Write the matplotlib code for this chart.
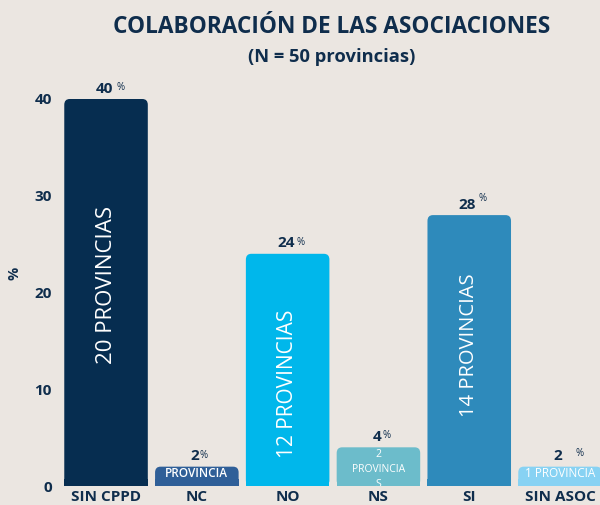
import matplotlib
matplotlib.use("Agg")
import matplotlib.pyplot as plt
from matplotlib.patches import FancyBboxPatch, Rectangle

categories = ["SIN CPPD", "NC", "NO", "NS", "SI", "SIN ASOC"]
values = [40, 2, 24, 4, 28, 2]
inner_labels = ["20 PROVINCIAS", "PROVINCIA", "12 PROVINCIAS", "2\nPROVINCIA\nS", "14 PROVINCIAS", "1 PROVINCIA"]
colors = ["#062d50", "#2f5f98", "#00b7eb", "#6cbccb", "#2e8abb", "#87d2f3"]
yticks = [0, 10, 20, 30, 40]

BG = "#ebe6e1"
NAVY = "#0f2d4c"
FONT = "Open Sans"

fig = plt.figure(figsize=(6.0, 5.05), dpi=100, facecolor=BG)
ax = fig.add_axes([0.1, 0.0376, 0.9, 0.843], facecolor=BG)
ax.set_xlim(-0.507, 5.44)
ax.set_ylim(0, 44)

width = 0.92
bars = ax.bar(range(len(values)), values, width=width, color=colors)
for b in bars:
    x, y, w, h = b.get_x(), b.get_y(), b.get_width(), b.get_height()
    b.set_visible(False)
    rpx = 0.06
    ryy = 0.6
    ax.add_patch(FancyBboxPatch((x, y), w, h,
                                boxstyle=f"round,pad=0,rounding_size={rpx}",
                                mutation_aspect=ryy / rpx,
                                fc=b.get_facecolor(), ec="none"))
    ax.add_patch(Rectangle((x, y), w, min(h, 0.7), fc=b.get_facecolor(), ec="none"))

# value labels with small percent signs
pct_dx = [0.12, 0.07, 0.10, 0.09, 0.11, 0.22]
pct_dy = [0.6, 0.6, 0.6, 0.7, 1.1, 0.8]
for i, v in enumerate(values):
    ax.text(i - 0.02, v + 0.35, str(v), ha="center", va="bottom", fontsize=11,
            fontweight="bold", color=NAVY, family=FONT)
    ax.text(i + pct_dx[i] + (0.04 if v >= 10 else 0.0), v + pct_dy[i], "%",
            ha="center", va="bottom", fontsize=7, color=NAVY, family=FONT)

# inner labels
ax.text(0, 20.8, inner_labels[0], rotation=90, ha="center", va="center",
        fontsize=16, color="white", family=FONT)
ax.text(2, 10.6, inner_labels[2], rotation=90, ha="center", va="center",
        fontsize=15, color="white", family=FONT)
ax.text(4, 14.6, inner_labels[4], rotation=90, ha="center", va="center",
        fontsize=14.5, color="white", family=FONT)
ax.text(1, 1.3, inner_labels[1], ha="center", va="center", fontsize=8.5,
        color="white", family=FONT, fontweight="semibold")
ax.text(3, 1.75, inner_labels[3], ha="center", va="center", fontsize=7.5,
        color="white", family=FONT, linespacing=1.5, clip_on=True)
ax.text(5 - 0.39, 1.25, inner_labels[5], ha="left", va="center", fontsize=8.5,
        color="white", family=FONT, clip_on=True)

ax.set_xticks(range(len(categories)))
ax.set_xticklabels(categories, fontsize=11, fontweight="bold", color=NAVY, family=FONT)
ax.set_yticks(yticks)
ax.set_yticklabels([str(t) for t in yticks], fontsize=11, fontweight="bold", color=NAVY, family=FONT)
ax.tick_params(length=0, pad=3)
ax.tick_params(axis="y", pad=6)
for s in ax.spines.values():
    s.set_visible(False)
ax.set_ylabel("%", fontsize=10.5, fontweight="bold", color=NAVY, family=FONT, labelpad=9)

fig.text(0.553, 0.947, "COLABORACIÓN DE LAS ASOCIACIONES", ha="center", va="center",
         fontsize=16.3, fontweight="bold", color=NAVY, family=FONT)
fig.text(0.553, 0.887, "(N = 50 provincias)", ha="center", va="center",
         fontsize=13.2, fontweight="bold", color=NAVY, family=FONT)

fig.savefig("out.png", dpi=100, facecolor=BG)
